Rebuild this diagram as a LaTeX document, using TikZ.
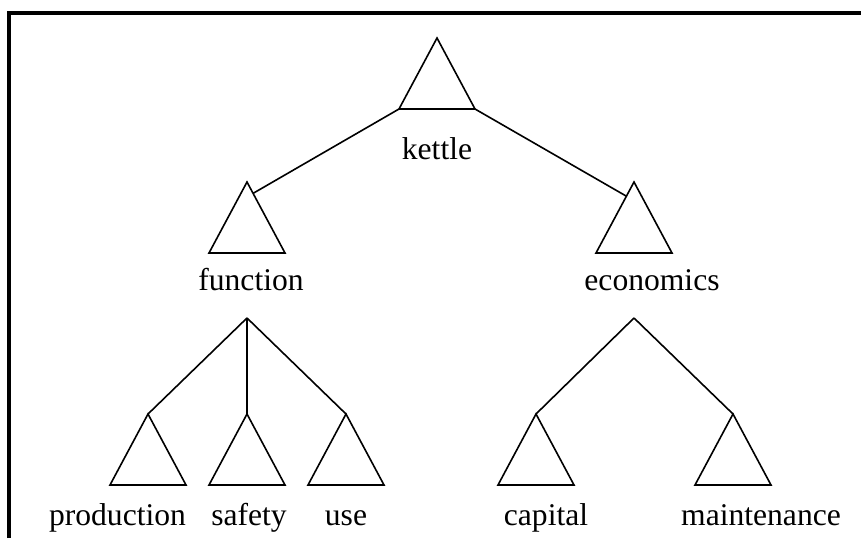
\documentclass[tikz,border=0pt]{standalone}
\usepackage{fontspec}
\setmainfont{Liberation Serif}
\usetikzlibrary{calc}

% triangle: name, x, apex y
\newcommand{\dtri}[3]{%
  \coordinate (#1) at (#2,#3);
  \coordinate (#1-l) at (#2-38,#3+71);
  \coordinate (#1-r) at (#2+38,#3+71);
  \draw (#1) -- (#1-l) -- (#1-r) -- cycle;}

\begin{document}
\begin{tikzpicture}[x=1pt, y=-1pt, line width=1.6pt,
  lbl/.style={anchor=base, inner sep=0pt, font=\fontsize{31.6}{36}\selectfont}]
\useasboundingbox (0,0) rectangle (861,538);
\draw[line width=4pt] (9,538) -- (9,12.5) -- (861,12.5);

\dtri{kettle}{437}{38}
\dtri{function}{247}{182}
\dtri{economics}{634}{182}
\dtri{production}{148}{414}
\dtri{safety}{247}{414}
\dtri{use}{346}{414}
\dtri{capital}{536}{414}
\dtri{maintenance}{733}{414}

\node[lbl] (kettle-txt) at (437,159) {kettle};
\node[lbl] (function-txt) at (251,290) {function};
\node[lbl] (economics-txt) at (652,290) {economics};
\node[lbl] (production-txt) at (117.5,525) {production};
\node[lbl] (safety-txt) at (249,525) {safety};
\node[lbl] (use-txt) at (346,525) {use};
\node[lbl] (capital-txt) at (546,525) {capital};
\node[lbl] (maintenance-txt) at (761,525) {maintenance};

\coordinate (function-in) at ($(function)!0.16!(function-r)$);
\coordinate (economics-in) at ($(economics)!0.2!(economics-l)$);
\draw (kettle-l) -- (function-in);
\draw (kettle-r) -- (economics-in);

\coordinate (fj) at (247,318);
\draw (fj) -- (production);
\draw (fj) -- (safety);
\draw (fj) -- (use);

\coordinate (ej) at (634,318);
\draw (ej) -- (capital);
\draw (ej) -- (maintenance);
\end{tikzpicture}
\end{document}
